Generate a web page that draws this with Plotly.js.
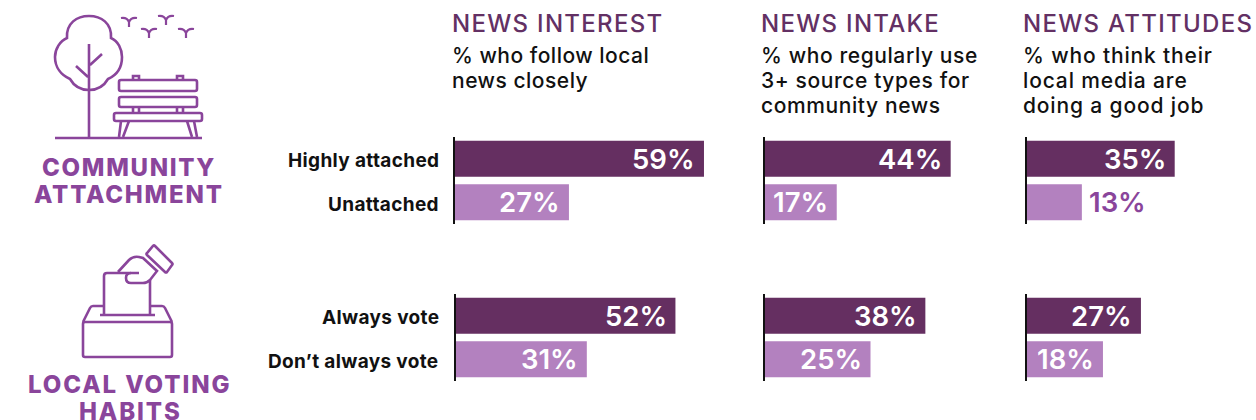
<!DOCTYPE html>
<html>
<head>
<meta charset="utf-8">
<script src="https://cdn.plot.ly/plotly-3.0.1.min.js"></script>
<style>html,body{margin:0;padding:0;background:#fff}#chart{width:1256px;height:420px}</style>
</head>
<body>
<div id="chart"></div>
<script>
// Category labels for each block of bars
const attachmentGroups = ["Highly attached", "Unattached"];
const votingGroups = ["Always vote", "Don\u2019t always vote"];

// Percentages per column, [upper bar, lower bar]
const attachmentInterest = [59, 27];
const attachmentIntake = [44, 17];
const attachmentAttitudes = [35, 13];
const votingInterest = [52, 31];
const votingIntake = [38, 25];
const votingAttitudes = [27, 18];

// Column headings and their descriptions
const headings = ["NEWS INTEREST", "NEWS INTAKE", "NEWS ATTITUDES"];
const descriptions = [
  ["% who follow local", "news closely"],
  ["% who regularly use", "3+ source types for", "community news"],
  ["% who think their", "local media are", "doing a good job"]
];

const W = 1256, H = 420;
const FONT = "Inter, 'Noto Sans', sans-serif";
const DARK = "#652f61", LIGHT = "#b381bf", ICON = "#8a459b", HEAD = "#633064";
const PX_PER_POINT = 4.22;

// Pixel geometry of the panels
const colLeft = [[455, 765, 1027], [456, 765, 1027]];
const colSpan = [60, 46, 40];
const rowBox = [[137, 224], [294, 381]];
const textLeft = [452, 761, 1023];
const descSpacing = [0.5, 0.6, 0.85];
const groupSets = [attachmentGroups, votingGroups];
const rowValues = [
  [attachmentInterest, attachmentIntake, attachmentAttitudes],
  [votingInterest, votingIntake, votingAttitudes]
];

const traces = [];
const layout = {
  width: W, height: H,
  margin: {l: 0, r: 0, t: 0, b: 0},
  paper_bgcolor: "#fff", plot_bgcolor: "rgba(0,0,0,0)",
  showlegend: false,
  bargap: 0.172,
  font: {family: FONT, color: "#111"},
  annotations: [], shapes: [],
  // Full-canvas axes in pixel units, used for the icons and free text
  xaxis7: {domain: [0, 1], range: [0, W], visible: false, anchor: "y7", fixedrange: true},
  yaxis7: {domain: [0, 1], range: [H, 0], visible: false, anchor: "x7", fixedrange: true}
};

function spaced(text, spacing) {
  return spacing ? `<span style="letter-spacing:${spacing}px">${text}</span>` : text;
}
function label(text, x, y, size, color, weight, anchor, spacing) {
  layout.annotations.push({
    xref: "x7", yref: "y7", x: x, y: y, text: spaced(text, spacing), showarrow: false,
    xanchor: anchor || "left", yanchor: "middle", align: anchor || "left",
    borderpad: 0, borderwidth: 0,
    font: {family: FONT, size: size, color: color, weight: weight || 500}
  });
}

rowValues.forEach((columns, r) => {
  columns.forEach((values, c) => {
    const n = r * 3 + c + 1;
    const xName = "x" + (n === 1 ? "" : n), yName = "y" + (n === 1 ? "" : n);
    const xKey = "xaxis" + (n === 1 ? "" : n), yKey = "yaxis" + (n === 1 ? "" : n);
    const left = colLeft[r][c], [top, bottom] = rowBox[r];
    traces.push({
      type: "bar", orientation: "h", x: values, y: groupSets[r],
      xaxis: xName, yaxis: yName, hoverinfo: "skip",
      marker: {color: [DARK, LIGHT], line: {width: 0}}
    });
    layout[xKey] = {
      domain: [left / W, (left + colSpan[c] * PX_PER_POINT) / W],
      range: [0, colSpan[c]], visible: false, anchor: yName, fixedrange: true
    };
    layout[yKey] = {
      domain: [1 - bottom / H, 1 - top / H],
      range: [1.5, -0.5], type: "category", anchor: xName, fixedrange: true,
      showline: true, linecolor: "#111", linewidth: 2, zeroline: false, showgrid: false,
      ticks: "", showticklabels: false
    };
    // Group names sit left of the first column
    if (c === 0) {
      groupSets[r].forEach(name => {
        layout.annotations.push({
          xref: xName, yref: yName, x: 0, y: name, text: spaced(name, 0.35),
          showarrow: false, xanchor: "right", xshift: -14.5, yshift: -2, yanchor: "middle",
          font: {family: FONT, size: 19, weight: 700, color: "#111"}
        });
      });
    }
    // Value labels sit inside the bar end unless the bar is too short
    values.forEach((v, i) => {
      const inside = v * PX_PER_POINT > 65;
      layout.annotations.push({
        xref: xName, yref: yName, x: v, y: groupSets[r][i], text: v + "%",
        showarrow: false, xanchor: inside ? "right" : "left",
        xshift: inside ? -6.5 : 5, yanchor: "middle",
        font: {family: FONT, size: 27.5, weight: 600, color: inside ? "#fff" : ICON}
      });
    });
  });
});

headings.forEach((h, c) => {
  label(h, textLeft[c], 23, 24, HEAD, 500, "left", 1.3);
  descriptions[c].forEach((line, i) => label(line, textLeft[c], 55 + i * 25, 21, "#111", 500, "left", descSpacing[c]));
});

label("COMMUNITY", 129, 167, 24, ICON, 800, "center", 1.7);
label("ATTACHMENT", 129, 194, 24, ICON, 800, "center", 1.8);
label("LOCAL VOTING", 129, 384.5, 24, ICON, 800, "center", 1.9);
label("HABITS", 130, 411.5, 24, ICON, 800, "center", 1.9);

// Icon outlines, drawn in the pixel axes
function icon(path, width) {
  layout.shapes.push({
    type: "path", xref: "x7", yref: "y7", path: path, layer: "above",
    line: {color: ICON, width: width || 2.6}
  });
}
function box(x0, y0, x1, y1) {
  const r = 2;
  return `M${x0 + r} ${y0} L${x1 - r} ${y0} Q${x1} ${y0} ${x1} ${y0 + r} L${x1} ${y1 - r} Q${x1} ${y1} ${x1 - r} ${y1} ` +
         `L${x0 + r} ${y1} Q${x0} ${y1} ${x0} ${y1 - r} L${x0} ${y0 + r} Q${x0} ${y0} ${x0 + r} ${y0} Z`;
}
function bird(cx, cy) {
  return `M${cx - 8} ${cy} Q${cx - 2} ${cy - 1} ${cx} ${cy + 4} L${cx} ${cy + 9} M${cx} ${cy + 4} Q${cx + 2} ${cy - 1} ${cx + 8} ${cy}`;
}

// Tree, ground line
icon("M67 38 C66 23 77 16 89 16 C101 16 112 23 111 38 C118 41 122 49 122 57 C122 67 117 75 108 79 C104 86 97 90 89 90 C81 90 74 86 70 79 C61 75 55 67 55 57 C55 49 60 41 67 38 Z");
icon("M89 44 L89 138 M90 65 L102 54 M88 77 L76 66 M55 138 L202 138");
// Birds
[[129, 18], [149, 29], [166, 16], [186, 29]].forEach(p => icon(bird(p[0], p[1]), 2.2));
// Bench
icon(box(119, 80, 197, 91));
icon(box(119, 97, 197, 107));
icon(box(114, 113, 202, 121));
icon("M133 80 L133 76 L139 76 L139 80 M177 80 L177 76 L183 76 L183 80");
icon("M133 107 L133 113 M139 107 L139 113 M177 107 L177 113 M183 107 L183 113");
icon("M121 121 L119 137 M129 121 L123 137 M187 121 L192 137 M194 121 L197 137");
// Ballot box
icon(box(83, 322, 172, 357));
icon("M83 322 L90 308 Q91 306 93 306 L103 306 M150 306 L162 306 Q164 306 165 308 L172 322");
icon("M100 315 L155 315");
icon("M104 315 L104 276 Q104 273 107 273 L139 273 M150 280 L150 315");
icon("M118 272 L129 260 Q133 256 139 257 L143 258 L157 271 L150 280 Q147 283 143 283 L131 283 Q126 283 126 278 Q126 273 131 273");
icon("M153 246 Q154 245 155 246 L172 263 Q173 264 172 265 L167 272 Q166 273 165 272 L147 255 Q146 254 147 253 Z");

Plotly.newPlot("chart", traces, layout, {displayModeBar: false, responsive: false});
</script>
</body>
</html>
